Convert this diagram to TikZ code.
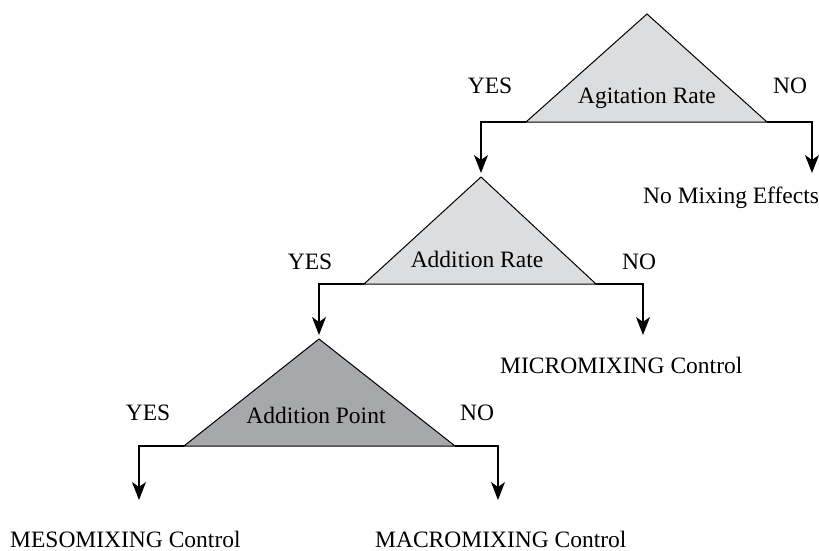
\documentclass[tikz,border=0pt]{standalone}
\usepackage{fontspec}
\setmainfont{Liberation Serif}
\usetikzlibrary{arrows.meta, positioning}
\definecolor{lightgrey}{HTML}{DCDDDF}
\definecolor{darkgrey}{HTML}{A7A8AB}

\begin{document}
\begin{tikzpicture}[x=1pt, y=-1pt,
    decision/.style={draw=black, line width=1pt, line join=miter},
    flow/.style={draw=black, line width=1.3pt, -{Stealth[length=18pt,width=14pt,inset=5pt]}},
    txt/.style={font=\fontsize{23.5}{28}\selectfont, inner sep=0pt, anchor=base},
    outcome/.style={txt, anchor=base west, text depth=0pt}]
  \useasboundingbox (0,0) rectangle (819,551);

  % decision triangles
  \draw[decision, fill=lightgrey] (647,14) coordinate (agtop) -- (767,122) coordinate (agr)
    -- (526,122) coordinate (agl) -- cycle;
  \draw[decision, fill=lightgrey] (481,177) coordinate (adtop) -- (596,284) coordinate (adr)
    -- (364,284) coordinate (adl) -- cycle;
  \draw[decision, fill=darkgrey] (319,339) coordinate (aptop) -- (455,446) coordinate (apr)
    -- (184,446) coordinate (apl) -- cycle;

  \node[txt] (agtxt) at (647,103) {Agitation Rate};
  \node[txt] (adtxt) at (477,267) {Addition Rate};
  \node[txt] (aptxt) at (316,423) {Addition Point};

  % branch labels
  \node[txt] (agyes) at (490,93) {YES};
  \node[txt] (agno) at (790,93) {NO};
  \node[txt] (adyes) at (310,269) {YES};
  \node[txt] (adno) at (639,269) {NO};
  \node[txt] (apyes) at (148,420) {YES};
  \node[txt] (apno) at (477,420) {NO};

  % outcomes
  \node[outcome] (nomix) at (643,203) {No Mixing Effects};
  \node[outcome] (micro) at (500,373) {MICROMIXING Control};
  \node[outcome] (meso) at (10,547) {MESOMIXING Control};
  \node[outcome] (macro) at (375,547) {MACROMIXING Control};

  \coordinate (agend) at (812,173);
  \coordinate (adend) at (643,335);
  \coordinate (mesoend) at (139,500);
  \coordinate (macroend) at (498,500);

  % connectors
  \draw[flow, shorten >=4pt] (agl) -| (adtop);
  \draw[flow] (agr) -| (agend);
  \draw[flow, shorten >=4pt] (adl) -| (aptop);
  \draw[flow] (adr) -| (adend);
  \draw[flow] (apl) -| (mesoend);
  \draw[flow] (apr) -| (macroend);
\end{tikzpicture}
\end{document}
